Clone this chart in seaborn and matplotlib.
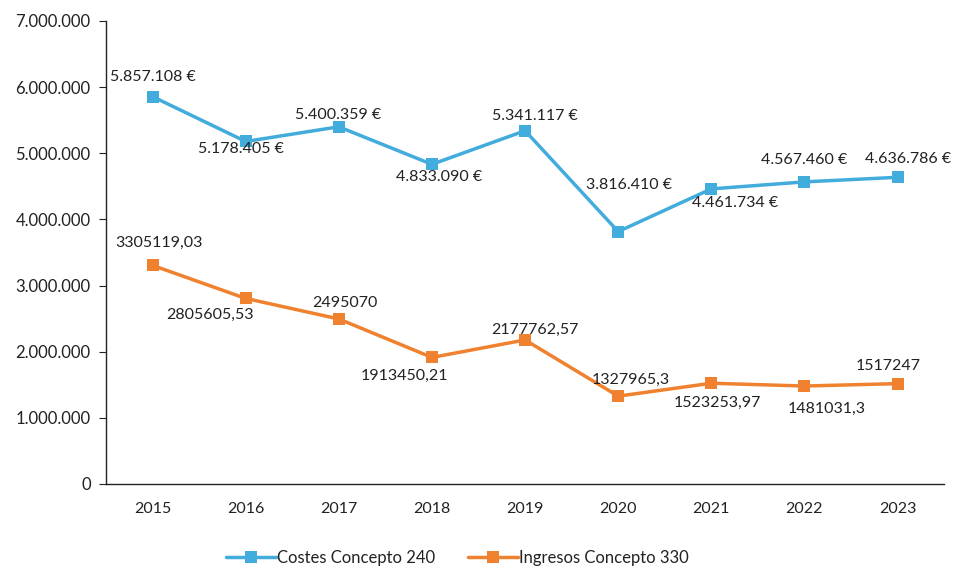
import matplotlib
matplotlib.use("Agg")
import matplotlib.pyplot as plt
import seaborn as sns
import pandas as pd
import numpy as np
from matplotlib.ticker import FuncFormatter, FixedLocator

years = ["2015", "2016", "2017", "2018", "2019", "2020", "2021", "2022", "2023"]
costes = [5857108, 5178405, 5400359, 4833090, 5341117, 3816410, 4461734, 4567460, 4636786]
ingresos = [3305119.03, 2805605.53, 2495070, 1913450.21, 2177762.57, 1327965.3, 1523253.97, 1481031.3, 1517247]
costes_labels = ["5.857.108 €", "5.178.405 €", "5.400.359 €", "4.833.090 €", "5.341.117 €",
                 "3.816.410 €", "4.461.734 €", "4.567.460 €", "4.636.786 €"]
ingresos_labels = ["3305119,03", "2805605,53", "2495070", "1913450,21", "2177762,57",
                   "1327965,3", "1523253,97", "1481031,3", "1517247"]
series_names = ["Costes Concepto 240", "Ingresos Concepto 330"]

# label offsets in pixels (dx, dy) relative to the point
costes_off = [(0, 20), (-5, -8), (-1, 12), (7, -13), (10, 15), (11, 47), (24, -14), (0, 22), (10, 18)]
ingresos_off = [(6, 22), (-36, -16), (6, 16), (-27, -18), (10, 10), (13, 16), (6, -20), (22, -23), (-9, 18)]

sns.set_style("white")
plt.rcParams['font.family'] = ['Lato', 'DejaVu Sans']

df = pd.DataFrame({
    "year": years * 2,
    "value": costes + ingresos,
    "serie": [series_names[0]] * len(years) + [series_names[1]] * len(years),
})

colors = {series_names[0]: "#42ACDC", series_names[1]: "#F0812F"}
txt = "#222222"

fig = plt.figure(figsize=(9.59, 5.66), dpi=100)
ax = fig.add_axes([0.1105, 0.1449, 0.874, 0.818])

sns.lineplot(data=df, x="year", y="value", hue="serie", palette=colors, ax=ax,
             marker="s", markersize=8, markeredgewidth=0, linewidth=2.5, legend=True)

for i, (v, lab, off) in enumerate(zip(costes, costes_labels, costes_off)):
    ax.annotate(lab, (i, v), xytext=off, textcoords="offset pixels",
                ha="center", va="center", fontsize=11.5, color=txt)
for i, (v, lab, off) in enumerate(zip(ingresos, ingresos_labels, ingresos_off)):
    ax.annotate(lab, (i, v), xytext=off, textcoords="offset pixels",
                ha="center", va="center", fontsize=11.5, color=txt)

ax.set_xlim(-0.5, len(years) - 0.5)
ax.set_ylim(0, 7000000)
ax.set_yticks(np.arange(0, 7000001, 1000000))
ax.yaxis.set_major_formatter(FuncFormatter(lambda v, p: f"{int(v):,}".replace(",", ".")))
ax.set_xticks(range(len(years)))
ax.set_xticklabels(years)
ax.xaxis.set_minor_locator(FixedLocator(np.arange(-0.5, len(years), 1.0)))
ax.tick_params(axis="x", which="major", length=0, pad=13, labelsize=11.5, colors=txt)
ax.tick_params(axis="x", which="minor", length=6, width=0.8, direction="out", color="#444444")
ax.tick_params(axis="y", which="major", length=5, width=0.8, direction="out", labelsize=12,
               colors=txt, left=True, pad=6)
ax.set_xlabel("")
ax.set_ylabel("")
for s in ["top", "right"]:
    ax.spines[s].set_visible(False)
for s in ["left", "bottom"]:
    ax.spines[s].set_color(txt)
    ax.spines[s].set_linewidth(1.0)

leg = ax.legend(loc="center", bbox_to_anchor=(0.477, 0.014), bbox_transform=fig.transFigure,
                ncol=2, frameon=False, fontsize=12, handlelength=3.0, columnspacing=2.0,
                handletextpad=0.05)
for t in leg.get_texts():
    t.set_color(txt)

fig.savefig("out.png", dpi=100)
